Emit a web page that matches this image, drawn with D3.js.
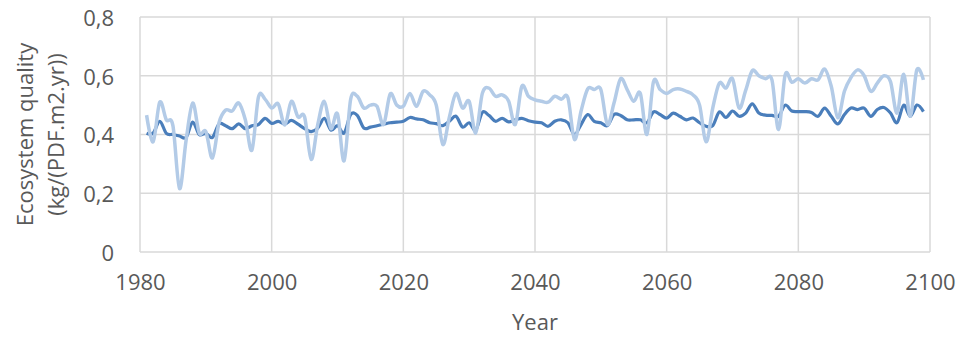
<!DOCTYPE html>
<html><head><meta charset="utf-8">
<script src="https://cdn.jsdelivr.net/npm/d3@7/dist/d3.min.js"></script>
<style>html,body{margin:0;padding:0;background:#fff;}svg{display:block;}</style>
</head><body>
<svg id="chart" width="957" height="338"></svg>
<script>
const startYear = 1981;
const seriesDark = [
0.404,0.405,0.445,0.404,0.400,0.395,0.390,0.442,0.400,0.404,
0.390,0.436,0.430,0.420,0.436,0.420,0.430,0.434,0.455,0.438,
0.445,0.436,0.448,0.435,0.420,0.410,0.422,0.455,0.415,0.430,
0.405,0.468,0.465,0.422,0.425,0.430,0.435,0.440,0.442,0.445,
0.458,0.453,0.450,0.440,0.437,0.430,0.445,0.462,0.425,0.440,
0.415,0.475,0.465,0.445,0.455,0.443,0.450,0.455,0.447,0.442,
0.440,0.428,0.445,0.450,0.440,0.400,0.434,0.468,0.445,0.440,
0.430,0.468,0.465,0.450,0.450,0.450,0.440,0.477,0.468,0.456,
0.473,0.462,0.450,0.456,0.440,0.428,0.430,0.477,0.458,0.480,
0.462,0.473,0.504,0.473,0.466,0.465,0.462,0.500,0.480,0.478,
0.478,0.475,0.462,0.490,0.462,0.436,0.468,0.490,0.485,0.490,
0.462,0.485,0.492,0.473,0.440,0.500,0.462,0.500,0.478];
const seriesLight = [
0.466,0.375,0.510,0.450,0.430,0.216,0.380,0.507,0.405,0.410,
0.320,0.440,0.483,0.480,0.507,0.450,0.347,0.528,0.520,0.490,
0.504,0.432,0.513,0.460,0.460,0.315,0.434,0.513,0.420,0.470,
0.310,0.520,0.530,0.490,0.500,0.496,0.434,0.538,0.500,0.496,
0.540,0.496,0.547,0.535,0.500,0.366,0.460,0.540,0.490,0.513,
0.405,0.540,0.558,0.530,0.535,0.513,0.434,0.564,0.530,0.518,
0.513,0.510,0.530,0.520,0.525,0.383,0.480,0.555,0.553,0.553,
0.434,0.507,0.590,0.553,0.513,0.540,0.400,0.580,0.553,0.540,
0.553,0.555,0.547,0.535,0.500,0.375,0.490,0.575,0.558,0.590,
0.490,0.550,0.617,0.600,0.590,0.585,0.417,0.603,0.578,0.590,
0.575,0.590,0.586,0.623,0.564,0.457,0.547,0.594,0.620,0.600,
0.547,0.575,0.600,0.580,0.473,0.605,0.462,0.620,0.586];
const years = seriesDark.map((d, i) => startYear + i);
const xTicks = [1980, 2000, 2020, 2040, 2060, 2080, 2100];
const yTicks = [0, 0.2, 0.4, 0.6, 0.8];
const yTickLabels = ["0", "0,2", "0,4", "0,6", "0,8"];
const xTitle = "Year";
const yTitleLines = ["Ecosystem quality", "(kg/(PDF.m2.yr))"];

const svg = d3.select("#chart");
const L = 140, R = 930, T = 17, B = 252;
const x = d3.scaleLinear().domain([1980, 2100]).range([L, R]);
const y = d3.scaleLinear().domain([0, 0.8]).range([B, T]);
const font = "'Open Sans', sans-serif";
const grid = "#d9d9d9";
const fs = 22;

// gridlines
svg.append("g").selectAll("line").data(yTicks).join("line")
  .attr("x1", L).attr("x2", R).attr("y1", d => y(d)).attr("y2", d => y(d))
  .attr("stroke", grid).attr("stroke-width", 1.5);
svg.append("g").selectAll("line").data(xTicks).join("line")
  .attr("x1", d => x(d)).attr("x2", d => x(d)).attr("y1", T).attr("y2", B)
  .attr("stroke", grid).attr("stroke-width", 1.5);

// axes labels via d3 axes
const yAxis = svg.append("g").attr("transform", `translate(${L - 10},0)`)
  .call(d3.axisLeft(y).tickValues(yTicks).tickFormat((d, i) => yTickLabels[i]).tickSize(0).tickPadding(16));
yAxis.select(".domain").remove();
yAxis.selectAll("text").attr("font-family", font).attr("font-size", fs).attr("fill", "#595959").attr("dy", "0.38em");

const xAxis = svg.append("g").attr("transform", `translate(0,${B})`)
  .call(d3.axisBottom(x).tickValues(xTicks).tickFormat(d3.format("d")).tickSize(0).tickPadding(22));
xAxis.select(".domain").remove();
xAxis.selectAll("text").attr("font-family", font).attr("font-size", fs).attr("fill", "#595959");

// lines
const line = (arr) => d3.line().x((d, i) => x(years[i])).y(d => y(d)).curve(d3.curveCardinal.tension(0))(arr);
svg.append("path").attr("d", line(seriesDark)).attr("fill", "none")
  .attr("stroke", "#4a7ebb").attr("stroke-width", 3.2).attr("stroke-linejoin", "round");
svg.append("path").attr("d", line(seriesLight)).attr("fill", "none")
  .attr("stroke", "#b3cbe7").attr("stroke-width", 3.5).attr("stroke-linejoin", "round");

// titles
svg.append("text").attr("x", (L + R) / 2).attr("y", 330).attr("text-anchor", "middle")
  .attr("font-family", font).attr("font-size", fs).attr("fill", "#595959").text(xTitle);
const yt = svg.append("text").attr("transform", `translate(33,${(T + B) / 2}) rotate(-90)`)
  .attr("text-anchor", "middle").attr("font-family", font).attr("font-size", fs).attr("fill", "#595959");
yTitleLines.forEach((t, i) => yt.append("tspan").attr("x", 0).attr("dy", i === 0 ? 0 : 31).text(t));
</script>
</body></html>
